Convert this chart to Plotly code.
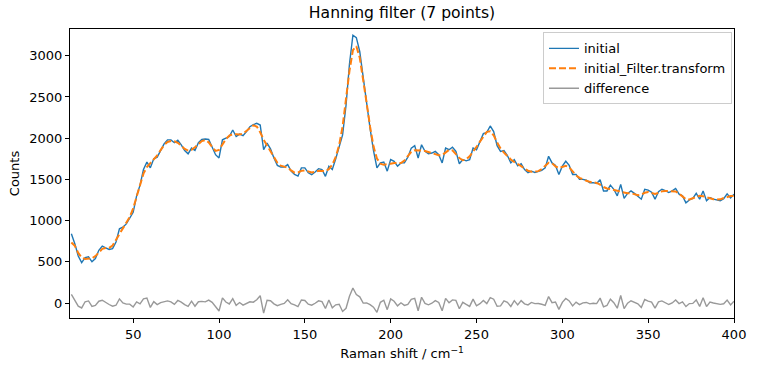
import numpy as np
import plotly.graph_objects as go

# Raman shift (cm^-1) sampling grid
raman_shift = list(range(14, 401, 2))

# Raw spectrum ("initial")
initial_counts = [
    840, 720, 570, 490, 550, 560, 500, 540, 640, 690,   # 14-32
    670, 650, 660, 740, 900, 920, 960, 1030, 1100, 1300, # 34-52
    1430, 1620, 1710, 1640, 1750, 1770, 1860, 1930, 1980, 1980, # 54-72
    1945, 1975, 1920, 1850, 1810, 1880, 1850, 1945, 1985, 1990, # 74-92
    1985, 1900, 1800, 1760, 1980, 2000, 2020, 2100, 2020, 2050, # 94-112
    2030, 2080, 2140, 2165, 2180, 2160, 1860, 1940, 1870, 1760, # 114-132
    1670, 1650, 1650, 1680, 1600, 1560, 1540, 1640, 1640, 1580, # 134-152
    1557, 1590, 1630, 1620, 1537, 1660, 1620, 1750, 1900, 2040, # 154-172
    2400, 2900, 3250, 3220, 3050, 2720, 2430, 2120, 1850, 1640, # 174-192
    1700, 1710, 1600, 1740, 1720, 1660, 1700, 1700, 1770, 1880, # 194-212
    1910, 1760, 1920, 1840, 1810, 1820, 1840, 1800, 1700, 1880, # 214-232
    1860, 1890, 1840, 1690, 1740, 1725, 1740, 1880, 1860, 1950, # 234-252
    2055, 2070, 2148, 2080, 1910, 1840, 1850, 1790, 1700, 1740, # 254-272
    1665, 1690, 1620, 1582, 1600, 1585, 1594, 1610, 1640, 1780, # 274-292
    1700, 1670, 1560, 1660, 1720, 1670, 1560, 1560, 1500, 1500, # 294-312
    1490, 1460, 1460, 1450, 1495, 1360, 1360, 1430, 1380, 1300, # 314-332
    1440, 1270, 1330, 1360, 1330, 1300, 1260, 1380, 1370, 1345, # 334-352
    1260, 1350, 1380, 1363, 1340, 1360, 1390, 1320, 1300, 1215, # 354-372
    1250, 1270, 1330, 1260, 1360, 1240, 1280, 1260, 1250, 1242, # 374-392
    1265, 1325, 1275, 1320,                                     # 394-400
]

x_ticks = [50, 100, 150, 200, 250, 300, 350, 400]
y_ticks = [0, 500, 1000, 1500, 2000, 2500, 3000]

# 7-point Hanning filter applied to the raw spectrum
sig = np.asarray(initial_counts, dtype=float)
win = np.hanning(7)
win = win / win.sum()
padded = np.pad(sig, 3, mode="reflect")
filtered = np.convolve(padded, win, mode="valid")
difference = sig - filtered

fig = go.Figure()
fig.add_trace(go.Scatter(x=raman_shift, y=initial_counts, mode="lines", name="initial",
                         line=dict(color="#1f77b4", width=1.4)))
fig.add_trace(go.Scatter(x=raman_shift, y=filtered, mode="lines", name="initial_Filter.transform",
                         line=dict(color="#ff7f0e", width=2, dash="7px,3px")))
fig.add_trace(go.Scatter(x=raman_shift, y=difference, mode="lines", name="difference",
                         line=dict(color="#999999", width=1.4)))

font = "DejaVu Sans, sans-serif"
axis_common = dict(showline=True, linecolor="black", linewidth=1, mirror=True,
                   ticks="outside", ticklen=4, tickcolor="black", showgrid=False,
                   zeroline=False, tickfont=dict(size=13, color="black", family=font))

fig.update_layout(
    width=758, height=374,
    margin=dict(l=70, r=21, t=29, b=56),
    paper_bgcolor="white", plot_bgcolor="white",
    font=dict(family=font, size=13, color="black"),
    title=dict(text="Hanning filter (7 points)", x=0.5, xref="paper", xanchor="center",
               y=1, yref="container", yanchor="top", pad=dict(t=7),
               font=dict(size=15.6, family=font, color="black")),
    showlegend=True,
    legend=dict(x=0.997, y=0.988, xanchor="right", yanchor="top",
                bgcolor="rgba(255,255,255,0.8)", bordercolor="#cccccc", borderwidth=1,
                font=dict(size=13, family=font, color="black"), itemwidth=30,
                tracegroupgap=0),
)
fig.update_xaxes(range=[13.2, 400], tickvals=x_ticks, **axis_common,
                 title=dict(text="Raman shift / cm<sup>−1</sup>", font=dict(size=13, family=font), standoff=8))
fig.update_yaxes(range=[-182, 3325], tickvals=y_ticks, **axis_common,
                 title=dict(text="Counts", font=dict(size=13, family=font), standoff=6))

fig.write_html("out.html")
